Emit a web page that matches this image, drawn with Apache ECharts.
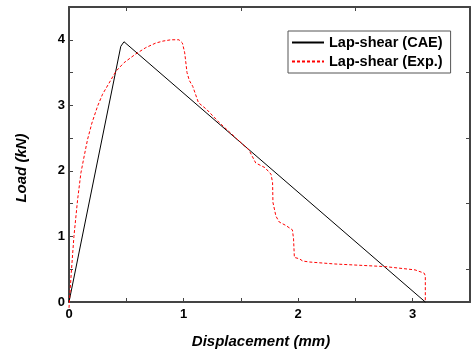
<!DOCTYPE html>
<html>
<head>
<meta charset="utf-8">
<script src="https://cdn.jsdelivr.net/npm/echarts@6/dist/echarts.min.js"></script>
<style>
  html, body { margin: 0; padding: 0; background: #fff; }
  #chart { width: 472px; height: 355px; }
</style>
</head>
<body>
<div id="chart"></div>
<script>
// Load-displacement curves
const seriesNames = ['Lap-shear (CAE)', 'Lap-shear (Exp.)'];
const caeData = [[0, 0], [0.452, 3.90], [0.48, 3.97], [3.11, 0]];
const expData = [
  [0, -0.09], [0.02, 0.45], [0.043, 1.0], [0.075, 1.56], [0.104, 1.97], [0.133, 2.23],
  [0.162, 2.48], [0.20, 2.73], [0.25, 2.99], [0.293, 3.17], [0.35, 3.34], [0.41, 3.52],
  [0.48, 3.65], [0.58, 3.78], [0.67, 3.88], [0.757, 3.95], [0.82, 3.98], [0.89, 4.0],
  [0.96, 4.0], [0.99, 3.95], [1.01, 3.80], [1.03, 3.50], [1.05, 3.38], [1.08, 3.29],
  [1.13, 3.04], [1.20, 2.94], [1.31, 2.74], [1.47, 2.48], [1.57, 2.32], [1.63, 2.12],
  [1.71, 2.05], [1.763, 1.95], [1.777, 1.82], [1.78, 1.52], [1.806, 1.31], [1.835, 1.22],
  [1.89, 1.17], [1.95, 1.10], [1.96, 0.96], [1.967, 0.68], [2.01, 0.66], [2.04, 0.625],
  [2.10, 0.61], [2.32, 0.58], [2.76, 0.54], [3.02, 0.49], [3.10, 0.44], [3.11, 0.40],
  [3.11, 0]
];
const xHalfTicks = [0.5, 1.5, 2.5];
const yHalfTicks = [0.5, 1.5, 2.5, 3.5];

const FONT = 'Liberation Sans, Arial, sans-serif';
const axisLine = { show: true, onZero: false, lineStyle: { color: '#444', width: 2 } };
const tickStyle = { color: '#444', width: 1 };
const labelStyle = { color: '#000', fontFamily: FONT, fontWeight: 'bold', fontSize: 13 };

const chart = echarts.init(document.getElementById('chart'));
chart.setOption({
  animation: false,
  grid: { left: 69, right: 2, top: 7, bottom: 53 },
  legend: {
    orient: 'vertical', left: 288, top: 31,
    padding: [4, 8, 4, 3], itemGap: 4, itemWidth: 32, itemHeight: 14,
    borderColor: '#555', borderWidth: 1,
    itemStyle: { opacity: 0 },
    textStyle: { color: '#000', fontFamily: FONT, fontWeight: 'bold', fontSize: 14.5 },
    data: seriesNames
  },
  xAxis: [
    { type: 'value', min: 0, max: 3.5, interval: 1, axisLine,
      axisTick: { inside: true, length: 4, lineStyle: tickStyle },
      minorTick: { show: true, splitNumber: 2, length: 4, lineStyle: tickStyle },
      axisLabel: { ...labelStyle, margin: 6, showMaxLabel: false },
      splitLine: { show: false } },
    { type: 'value', position: 'top', min: 0, max: 3.5, interval: 1, axisLine,
      axisTick: { inside: true, length: 4, customValues: xHalfTicks, lineStyle: tickStyle },
      axisLabel: { show: false }, splitLine: { show: false } }
  ],
  yAxis: [
    { type: 'value', min: 0, max: 4.5, interval: 1, axisLine,
      axisTick: { inside: true, length: 4, lineStyle: tickStyle },
      minorTick: { show: true, splitNumber: 2, length: 4, lineStyle: tickStyle },
      axisLabel: { ...labelStyle, margin: 4, showMaxLabel: false },
      splitLine: { show: false } },
    { type: 'value', position: 'right', min: 0, max: 4.5, interval: 1, axisLine,
      axisTick: { inside: true, length: 4, customValues: yHalfTicks, lineStyle: tickStyle },
      axisLabel: { show: false }, splitLine: { show: false } }
  ],
  graphic: [
    { type: 'text', x: 261, y: 342, style: { text: 'Displacement (mm)', fill: '#000',
      font: 'italic bold 15px ' + FONT, align: 'center', verticalAlign: 'middle' } },
    { type: 'text', x: 22, y: 168, rotation: Math.PI / 2, style: { text: 'Load (kN)', fill: '#000',
      font: 'italic bold 15px ' + FONT, align: 'center', verticalAlign: 'middle' } }
  ],
  series: [
    { name: seriesNames[0], type: 'line', data: caeData, symbol: 'none', clip: false,
      lineStyle: { color: '#000', width: 1 }, itemStyle: { color: '#000' } },
    { name: seriesNames[1], type: 'line', data: expData, symbol: 'none', clip: false,
      lineStyle: { color: '#ff0000', width: 1, type: [3, 2] }, itemStyle: { color: '#ff0000' } }
  ]
});
</script>
</body>
</html>
